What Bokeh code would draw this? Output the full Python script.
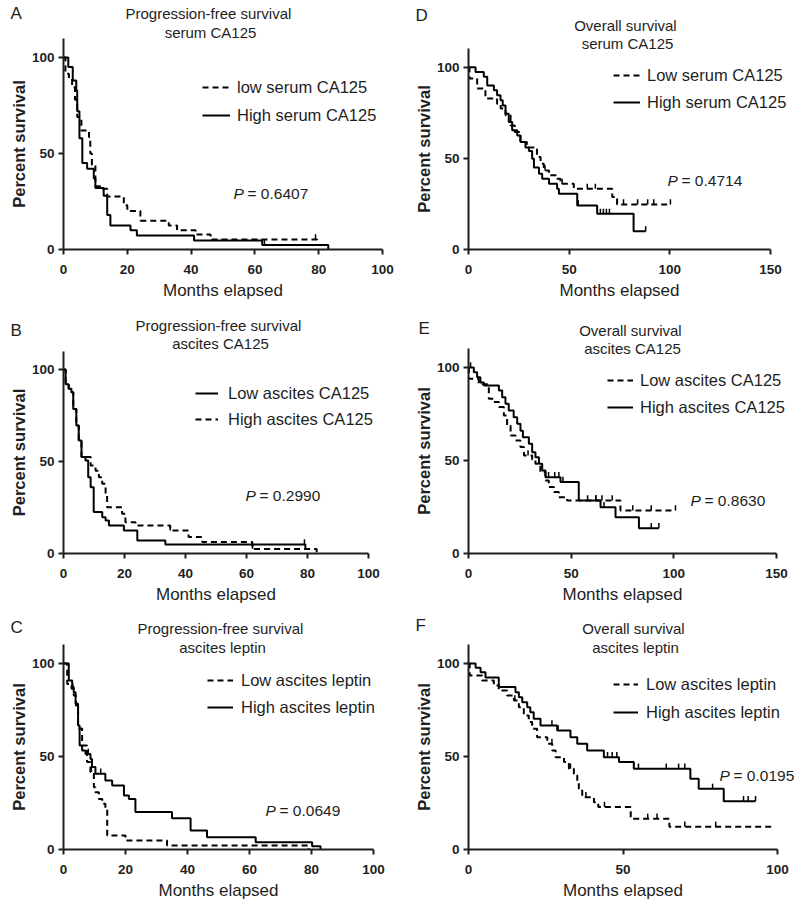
import numpy as np
from bokeh.plotting import figure
from bokeh.models import Range1d, FixedTicker, Label, Legend, LegendItem
from bokeh.layouts import column, row
from bokeh.embed import file_html
from bokeh.resources import INLINE

FONT = "Liberation Sans"
INK = "#1e1e1e"

# ---------------- data ----------------
pfs_x_ticks = [0, 20, 40, 60, 80, 100]
os_x_ticks_150 = [0, 50, 100, 150]
os_x_ticks_100 = [0, 50, 100]
y_ticks = [0, 50, 100]
y_axis_top = 110

# A: progression-free survival, serum CA125
a_low_t = [0, 0.6, 1.7, 2.7, 3.6, 4.3, 5.6, 8.0, 8.4, 8.9, 10.0, 12.1, 13.7, 18.9, 20.0, 24.1, 33.0, 35.6, 41.4, 46.1, 79.5, 80.0]
a_low_s = [100, 91.5, 89, 84.5, 78, 69, 62, 58.5, 50, 44, 33, 31.6, 27.6, 23, 20, 15, 12.5, 10, 7.8, 5.2, 2.4, 2.4]
a_low_c = [79.0]
a_high_t = [0, 1.5, 2.9, 4.0, 4.3, 5.0, 5.9, 7.4, 9.5, 10.0, 12.6, 13.7, 14.7, 21.0, 23.0, 40.9, 62.3, 83.0]
a_high_s = [100, 95, 88, 83, 72, 58, 45, 42, 37, 32, 28, 18, 12.5, 10, 7.3, 4.7, 2.4, 0]
a_high_c = [41.0, 63.0]

# D: overall survival, serum CA125
d_low_t = [0, 0.5, 4.3, 8.4, 14.2, 16.0, 18.4, 20.9, 23.0, 25.8, 29.0, 34.0, 35.8, 37.4, 40.0, 44.0, 45.7, 52.3, 71.4, 73.8, 100.3]
d_low_s = [100, 93.8, 88.3, 82.8, 80, 77.3, 73.6, 68, 64.5, 59, 56, 50.7, 47, 43.4, 40.7, 38.8, 36, 33.3, 28.8, 24.7, 24.7]
d_low_c = [38.0, 46.5, 59.0, 63.0, 77.0, 84.0, 89.0, 92.0, 100.3]
d_high_t = [0, 3.5, 7.6, 9.3, 12.6, 14.2, 15.9, 17.0, 18.4, 20.0, 21.7, 24.2, 25.8, 28.3, 30.0, 31.6, 32.5, 35.0, 36.6, 40.0, 44.0, 44.9, 54.0, 63.9, 82.0, 88.0]
d_high_s = [100, 97.4, 94.7, 90, 87.4, 84.6, 81.9, 79, 74.5, 70, 65.4, 62.6, 59, 55.9, 54, 49.8, 45, 41.6, 38.8, 36, 33.3, 30.6, 24.2, 19.6, 10, 10]
d_high_c = [54.5, 65.5, 67.0, 68.5, 70.0, 88.0]

# B: progression-free survival, ascites CA125
b_low_t = [0, 0.7, 1.7, 2.6, 3.2, 4.2, 5.0, 5.9, 7.2, 8.1, 8.9, 9.9, 12.7, 13.8, 14.9, 19.8, 24.2, 33.4, 79.3, 80.0]
b_low_s = [100, 92, 89.5, 87.7, 78.6, 69.6, 61.4, 52.4, 50.5, 41.5, 36, 22.5, 19.7, 18, 15.2, 12.5, 7, 4.9, 2.5, 2.5]
b_low_c = [79.0]
b_high_t = [0, 0.7, 1.7, 2.6, 3.2, 4.2, 5.0, 5.9, 8.9, 10.5, 11.6, 12.7, 13.8, 14.3, 19.2, 20.3, 23.6, 35.0, 41.0, 45.5, 61.9, 83.0]
b_high_s = [100, 92, 89.5, 87.7, 78.6, 69.6, 61.4, 52.4, 47.8, 45, 41.5, 37.9, 32.4, 25.2, 21.6, 17, 15.2, 12.5, 8.9, 6.2, 2.5, 0]
b_high_c = [35.0, 62.0]

# E: overall survival, ascites CA125
e_low_t = [0, 0.2, 5.0, 9.9, 12.3, 14.8, 17.2, 18.8, 20.5, 22.9, 25.3, 27.0, 31.0, 32.6, 35.0, 37.5, 39.1, 41.6, 44.0, 48.0, 74.0, 100.8]
e_low_s = [100, 93.9, 91, 83.2, 81.4, 78.7, 74.2, 68.8, 63.4, 60.8, 57.2, 52.7, 50.5, 48.2, 43.7, 39.2, 35.7, 33, 30.3, 28.5, 23.1, 23.1]
e_low_c = [29.0, 58.0, 62.0, 65.0, 70.0, 80.0, 89.0, 100.8]
e_high_t = [0, 2.6, 4.2, 5.8, 7.5, 14.8, 16.4, 18.0, 19.6, 22.0, 23.7, 25.3, 26.5, 29.4, 31.0, 32.6, 34.3, 35.9, 37.5, 44.8, 53.7, 64.3, 71.6, 83.0, 92.7]
e_high_s = [100, 97.5, 94.8, 92, 90.3, 87.6, 84, 80.5, 76.9, 73.3, 69.7, 66, 62.5, 59, 54.5, 51.8, 48.2, 44.6, 41, 38.4, 28.5, 24.9, 19.5, 13.6, 13.6]
e_high_c = [1.0, 39.0, 42.0, 44.0, 46.0, 62.0, 66.0, 89.0, 92.7]

# C: progression-free survival, ascites leptin
c_low_t = [0, 1.2, 2.6, 3.3, 4.0, 4.7, 6.0, 7.6, 8.7, 9.8, 10.3, 11.4, 12.5, 13.5, 14.1, 20.0, 33.4, 79.1]
c_low_s = [100, 89, 86.4, 82.8, 77.4, 65, 55.9, 47, 41.6, 33.5, 30.8, 27.2, 24.6, 21.9, 7.5, 4.8, 2.2, 0]
c_low_c = [3.0, 9.0]
c_high_t = [0, 1.7, 2.8, 3.3, 3.9, 4.7, 5.2, 6.0, 7.1, 8.7, 9.2, 10.3, 13.5, 15.7, 19.5, 21.1, 23.2, 35.0, 41.0, 46.3, 62.0, 80.2, 82.9]
c_high_s = [100, 90.9, 87.3, 84.6, 78.3, 66.7, 55.9, 53.2, 51.4, 48.7, 44.3, 40.7, 37.1, 34.4, 29, 27.2, 20.1, 16.8, 10.2, 6.6, 3.9, 1.8, 0]
c_high_c = [8.0, 12.0]

# F: overall survival, ascites leptin
f_low_t = [0, 0.4, 4.4, 8.2, 9.8, 12.5, 14.7, 16.3, 17.9, 19.5, 20.6, 22.2, 25.5, 27.1, 28.2, 30.9, 32.5, 34.1, 35.2, 35.7, 36.8, 40.6, 42.0, 52.5, 65.0, 98.8]
f_low_s = [100, 93.5, 90.9, 88.2, 85.5, 82.8, 80.1, 76.5, 72, 68.5, 64.9, 60.4, 56.8, 53.2, 49.6, 47, 43.4, 39.8, 36.2, 32.6, 28.1, 25.4, 22.8, 16.5, 12.2, 12.2]
f_low_c = [15.0, 27.0, 33.0, 38.0, 44.0, 58.0, 61.0, 70.0, 80.0]
f_high_t = [0, 2.3, 3.9, 5.5, 9.8, 15.2, 16.3, 17.4, 19.0, 20.0, 21.1, 23.3, 28.7, 33.0, 35.2, 38.4, 43.8, 48.7, 53.5, 71.8, 74.5, 82.6, 92.9]
f_high_s = [100, 97.7, 95.3, 92.5, 87.3, 84.6, 81.9, 79.2, 76.5, 73.8, 70.3, 66.7, 64, 60.4, 56.8, 53.2, 49.6, 47, 43.4, 38, 32.6, 26, 26]
f_high_c = [27.0, 29.0, 45.0, 46.5, 48.0, 55.0, 64.0, 68.0, 70.0, 79.0, 89.0, 90.5, 92.9]

pfs_title = "Progression-free  survival"
os_title = "Overall  survival"

panels = {
    "A": dict(t1=pfs_title, t2="serum CA125", xmax=100, xticks=pfs_x_ticks, pval="0.6407",
              series=[("low serum CA125", a_low_t, a_low_s, a_low_c, True),
                      ("High serum CA125", a_high_t, a_high_s, a_high_c, False)]),
    "D": dict(t1=os_title, t2="serum CA125", xmax=150, xticks=os_x_ticks_150, pval="0.4714",
              series=[("Low serum CA125", d_low_t, d_low_s, d_low_c, True),
                      ("High serum CA125", d_high_t, d_high_s, d_high_c, False)]),
    "B": dict(t1=pfs_title, t2="ascites CA125", xmax=100, xticks=pfs_x_ticks, pval="0.2990",
              series=[("Low ascites CA125", b_low_t, b_low_s, b_low_c, False),
                      ("High ascites CA125", b_high_t, b_high_s, b_high_c, True)]),
    "E": dict(t1=os_title, t2="ascites CA125", xmax=150, xticks=os_x_ticks_150, pval="0.8630",
              series=[("Low ascites CA125", e_low_t, e_low_s, e_low_c, True),
                      ("High ascites CA125", e_high_t, e_high_s, e_high_c, False)]),
    "C": dict(t1=pfs_title, t2="ascites leptin", xmax=100, xticks=pfs_x_ticks, pval="0.0649",
              series=[("Low ascites leptin", c_low_t, c_low_s, c_low_c, True),
                      ("High ascites leptin", c_high_t, c_high_s, c_high_c, False)]),
    "F": dict(t1=os_title, t2="ascites leptin", xmax=100, xticks=os_x_ticks_100, pval="0.0195",
              series=[("Low ascites leptin", f_low_t, f_low_s, f_low_c, True),
                      ("High ascites leptin", f_high_t, f_high_s, f_high_c, False)]),
}

# ---------------- layout (page pixel positions) ----------------
# fx, fy, w, h: figure box; x0px: pixel of x=0, xendpx: pixel of last x tick,
# y0px: pixel of y=0, y100px: pixel of y=100
geom = {
    "A": dict(fx=0, fy=0, w=400, h=300, x0px=63, xendpx=382, y0px=249, y100px=57,
              letter=(10, 13), tcx=210, ty=(13, 32), p=(233, 193), leg=(202, 87, 115, 28, 7)),
    "D": dict(fx=400, fy=0, w=399, h=300, x0px=468, xendpx=770, y0px=249, y100px=66.7,
              letter=(415, 15), tcx=627, ty=(25, 43), p=(667, 180), leg=(613, 75, 102, 27, 7)),
    "B": dict(fx=0, fy=300, w=400, h=307, x0px=63, xendpx=368, y0px=553, y100px=369,
              letter=(10, 330), tcx=220, ty=(325, 343), p=(245, 495), leg=(195, 393, 419, 23, 10)),
    "E": dict(fx=400, fy=300, w=399, h=307, x0px=468, xendpx=776, y0px=553, y100px=367,
              letter=(418, 328), tcx=632, ty=(330, 348), p=(690, 500), leg=(607, 380, 407, 26, 7)),
    "C": dict(fx=0, fy=607, w=400, h=297, x0px=63, xendpx=373, y0px=849, y100px=663,
              letter=(10, 627), tcx=222, ty=(628, 647), p=(265, 810), leg=(207, 680, 707, 26, 8)),
    "F": dict(fx=400, fy=607, w=399, h=297, x0px=468, xendpx=777, y0px=849, y100px=663,
              letter=(415, 625), tcx=635, ty=(628, 647), p=(719, 775), leg=(613, 684, 712, 25, 8)),
}

TICK_H = 2.8  # censor tick height in data units


def step_value(t, s, c):
    t = np.asarray(t, float)
    s = np.asarray(s, float)
    idx = np.searchsorted(t, np.asarray(c, float), side="right") - 1
    return s[np.clip(idx, 0, len(s) - 1)]


def make_panel(key):
    cfg = panels[key]
    g = geom[key]
    fx, fy, w, h = g["fx"], g["fy"], g["w"], g["h"]
    sxu = (g["xendpx"] - g["x0px"]) / cfg["xmax"]
    syu = (g["y0px"] - g["y100px"]) / 100.0
    xr = Range1d(-(g["x0px"] - fx) / sxu, (fx + w - g["x0px"]) / sxu)
    yr = Range1d(-(fy + h - g["y0px"]) / syu, (g["y0px"] - fy) / syu)
    p = figure(width=w, height=h, x_range=xr, y_range=yr,
               output_backend="svg", toolbar_location=None, title=None,
               min_border_left=0, min_border_right=0, min_border_top=0, min_border_bottom=0)
    p.outline_line_color = None
    p.grid.visible = False
    p.background_fill_color = "white"
    p.border_fill_color = "white"

    p.xaxis.fixed_location = 0
    p.yaxis.fixed_location = 0
    p.xaxis.bounds = (0, cfg["xmax"])
    p.yaxis.bounds = (0, y_axis_top)
    p.xaxis.ticker = FixedTicker(ticks=cfg["xticks"])
    p.yaxis.ticker = FixedTicker(ticks=y_ticks)
    p.xaxis.axis_label = "Months elapsed"
    p.yaxis.axis_label = "Percent survival"
    for ax in (p.xaxis[0], p.yaxis[0]):
        ax.axis_line_width = 2
        ax.axis_line_color = INK
        ax.major_tick_line_width = 2
        ax.major_tick_line_color = INK
        ax.major_tick_out = 5
        ax.major_tick_in = 0
        ax.minor_tick_line_color = None
        ax.major_label_text_font = FONT
        ax.major_label_text_font_style = "bold"
        ax.major_label_text_font_size = "13.5px"
        ax.major_label_text_color = INK
        ax.axis_label_text_font = FONT
        ax.axis_label_text_color = INK
    p.xaxis.major_label_standoff = 10
    p.yaxis.major_label_standoff = 4
    p.xaxis.axis_label_text_font_style = "normal"
    p.xaxis.axis_label_text_font_size = "17px"
    p.xaxis.axis_label_standoff = 4
    p.yaxis.axis_label_text_font_style = "bold"
    p.yaxis.axis_label_text_font_size = "16.5px"
    p.yaxis.axis_label_standoff = 1

    items = []
    for name, t, s, c, dashed in cfg["series"]:
        dash = "6 4" if dashed else "solid"
        r = p.step(t, s, mode="after", line_color="black", line_width=2, line_dash=dash)
        cy = step_value(t, s, c)
        p.segment(x0=c, y0=cy, x1=c, y1=cy + TICK_H, line_color="black", line_width=1.5)
        items.append(LegendItem(label=name, renderers=[r]))

    gx, r1, r2, gw, so = g["leg"]
    legend = Legend(items=items, location=(gx - fx, h - (r2 + 10 - fy)),
                    glyph_width=gw, glyph_height=20, label_height=20, label_standoff=so,
                    spacing=(r2 - r1) - 20, padding=0, margin=0,
                    border_line_alpha=0, background_fill_alpha=0,
                    label_text_font=FONT, label_text_font_size="16.5px", label_text_color=INK,
                    label_text_baseline="middle")
    p.add_layout(legend)

    def lab(x, y, text, size, align="left", style="normal"):
        p.add_layout(Label(x=x - fx, y=h - (y - fy), x_units="screen", y_units="screen", text=text,
                           text_font=FONT, text_font_size=size, text_font_style=style,
                           text_color=INK, text_align=align, text_baseline="middle"))

    lx, ly = g["letter"]
    lab(lx, ly, key, "17px")
    lab(g["tcx"], g["ty"][0], cfg["t1"], "15px", align="center")
    lab(g["tcx"], g["ty"][1], cfg["t2"], "15px", align="center")
    px, py = g["p"]
    lab(px, py, "P", "15.5px", style="italic")
    lab(px + 14, py, "= " + cfg["pval"], "15.5px")
    return p


layout = column(row(make_panel("A"), make_panel("D")),
                row(make_panel("B"), make_panel("E")),
                row(make_panel("C"), make_panel("F")))

open("out.html", "w").write(file_html(layout, INLINE))
